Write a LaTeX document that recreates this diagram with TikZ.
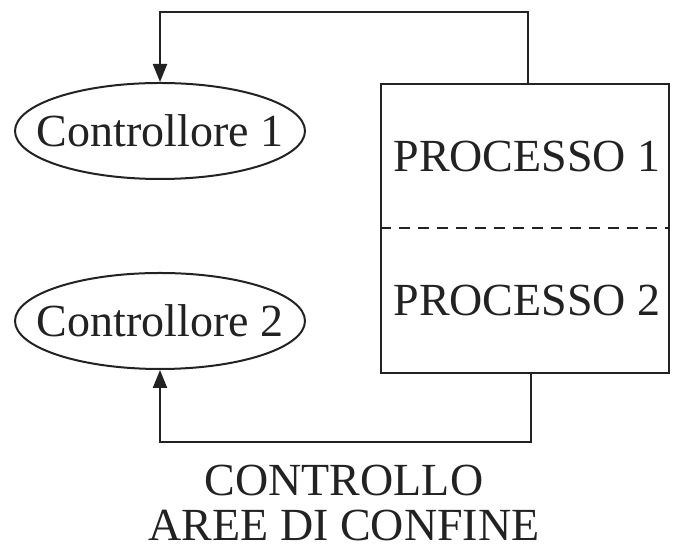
\documentclass[tikz,border=0pt]{standalone}
\usepackage{fontspec}
\setmainfont{Liberation Serif}
\usetikzlibrary{shapes.geometric,arrows.meta,positioning}
\definecolor{ink}{HTML}{222222}
\newcommand{\bigtext}{\fontsize{46}{46}\selectfont}
\tikzset{
node distance=45pt, % vertical gap between the label lines
ctrl/.style={draw=ink, ellipse, line width=2pt, minimum width=290pt, minimum height=96pt, inner sep=0pt,
    label={[text=ink, font=\bigtext, inner sep=0pt]center:#1}},
procbox/.style={draw=ink, rectangle, line width=2.2pt, minimum width=288pt, minimum height=289pt},
proclabel/.style={text=ink, font=\bigtext, inner sep=0pt},
lbl/.style={text=ink, font=\bigtext, inner sep=0pt},
feedback/.style={draw=ink, line width=2.2pt, -{Triangle[length=18pt,width=14pt]}},
sep/.style={draw=ink, line width=2pt, dash pattern=on 11pt off 8pt},
}
\begin{document}
\begin{tikzpicture}[x=1pt,y=1pt,on grid]
    \useasboundingbox (0,0) rectangle (673,545);
    % processo
    \node[procbox] (proc) at (525,316.5) {};
    \draw[sep] (proc.west) -- (proc.east);
    \node[proclabel] (p1) at (527,388) {PROCESSO 1};
    \node[proclabel] (p2) [below=144pt of p1] {PROCESSO 2};
    % controllori
    \node[ctrl=Controllore 1] (c1) at (160,414) {};
    \node[ctrl=Controllore 2] (c2) at (160,224) {};
    \coordinate (top) at (528,533);
    \coordinate (bot) at (531,103);
    \draw[feedback] (proc.north -| top) -- (top) -| (c1.north);
    \draw[feedback] (proc.south -| bot) -- (bot) -| (c2.south);
    % didascalia
    \node[lbl] (ctl) at (344,64) {CONTROLLO};
    \node[lbl] (aree) [below=45pt of ctl] {AREE DI CONFINE};
\end{tikzpicture}
\end{document}
